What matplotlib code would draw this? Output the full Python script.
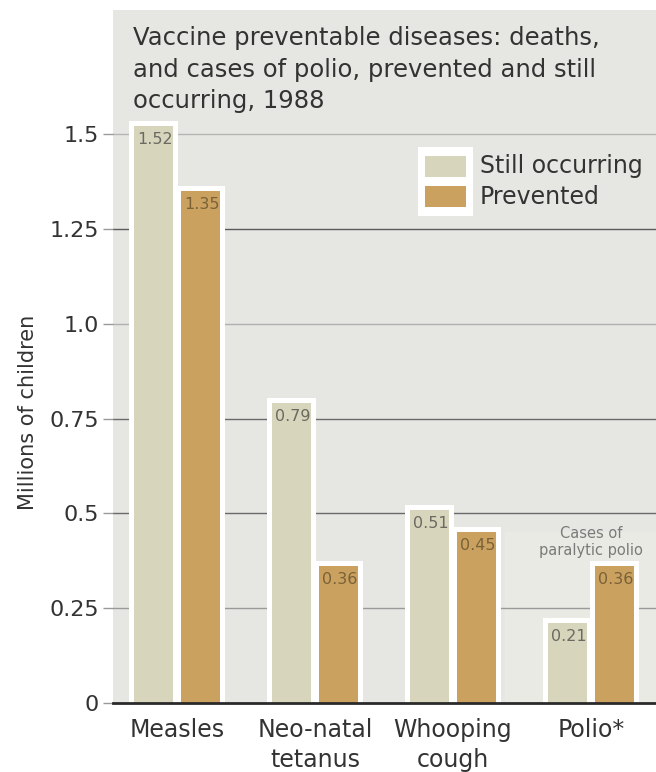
import matplotlib
matplotlib.use("Agg")
import matplotlib.pyplot as plt
from matplotlib.patches import Rectangle
import numpy as np

# Data (millions of children, 1988)
categories = ["Measles", "Neo-natal\ntetanus", "Whooping\ncough", "Polio*"]
still_occurring = [1.52, 0.79, 0.51, 0.21]
prevented = [1.35, 0.36, 0.45, 0.36]
value_labels_still = ["1.52", "0.79", "0.51", "0.21"]
value_labels_prev = ["1.35", "0.36", "0.45", "0.36"]
ytick_values = [0, 0.25, 0.5, 0.75, 1.0, 1.25, 1.5]
ytick_labels = ["0", "0.25", "0.5", "0.75", "1.0", "1.25", "1.5"]

W, H = 656, 772
fig = plt.figure(figsize=(W / 100, H / 100), dpi=100)
fig.patch.set_facecolor("white")

# axes box in pixels
ax_l, ax_r, ax_t, ax_b = 113, 656, 10, 703
ax = fig.add_axes([ax_l / W, (H - ax_b) / H, (ax_r - ax_l) / W, (ax_b - ax_t) / H])
ax.set_facecolor("#e6e6e3")

px_per_x = 138.0
px_per_y = 379.3
x0_px = 177
ax.set_xlim((ax_l - x0_px) / px_per_x, (ax_r - x0_px) / px_per_x)
ax.set_ylim(0, (ax_b - ax_t) / px_per_y)

still_col = "#d8d5bd"
prev_col = "#cba160"
bar_w = 39 / px_per_x
off = 23.5 / px_per_x
pad_x = 5 / px_per_x
pad_y = 5 / px_per_y

x = np.arange(len(categories))

# slightly lighter panel behind the polio group
ax.add_patch(Rectangle((2.377, 0), 5, 0.45, facecolor="#eaeae4", edgecolor="none", zorder=0.5))

# gridlines
grid_cols = {0.25: "#9a9a9a", 0.5: "#6a6a6a", 0.75: "#6a6a6a", 1.0: "#b0b0b0",
             1.25: "#5a5a5a", 1.5: "#b5b5b5"}
for yv, c in grid_cols.items():
    ax.axhline(yv, color=c, lw=1.0, zorder=1)

# white backing behind each bar, then the coloured bar
for xs, vals, col in [(x - off, still_occurring, still_col), (x + off, prevented, prev_col)]:
    ax.bar(xs, np.array(vals) + pad_y, width=bar_w + 2 * pad_x, color="white",
           edgecolor="none", zorder=2)
    ax.bar(xs, vals, width=bar_w, color=col, edgecolor="none", zorder=3)

# value labels inside the top of each bar
for xi, v, t in zip(x - off, still_occurring, value_labels_still):
    ax.text(xi - bar_w / 2 + 3 / px_per_x, v - 6 / px_per_y, t, ha="left", va="top",
            fontsize=11.5, color="#6a6a62", zorder=4)
for xi, v, t in zip(x + off, prevented, value_labels_prev):
    ax.text(xi - bar_w / 2 + 3 / px_per_x, v - 6 / px_per_y, t, ha="left", va="top",
            fontsize=11.5, color="#7a6238", zorder=4)

ax.text(x[3], 0.425, "Cases of\nparalytic polio", ha="center", va="center",
        fontsize=10.5, color="#7a7a7a", linespacing=1.2, zorder=4)

# spines and ticks
for s in ["left", "right", "top"]:
    ax.spines[s].set_visible(False)
ax.spines["bottom"].set_color("#2a2a2a")
ax.spines["bottom"].set_linewidth(2)
ax.spines["bottom"].set_zorder(5)

ax.set_yticks(ytick_values)
ax.set_yticklabels(ytick_labels, fontsize=16, color="#333333")
ax.tick_params(axis="y", length=7, width=1, color="#999999", pad=3)
ax.set_xticks(x)
ax.set_xticklabels(categories, fontsize=17, color="#333333", linespacing=1.3)
ax.tick_params(axis="x", length=0, pad=11)

fig.text(28 / W, 1 - 412 / H, "Millions of children", rotation=90, ha="center",
         va="center", fontsize=15, color="#333333")

# title block
fig.text(133 / W, 1 - 26 / H,
         "Vaccine preventable diseases: deaths,\nand cases of polio, prevented and still\noccurring, 1988",
         ha="left", va="top", fontsize=17.5, color="#333333", linespacing=1.4)

# legend
def px_rect(x1, y1, x2, y2, **kw):
    fig.patches.append(Rectangle((x1 / W, 1 - y2 / H), (x2 - x1) / W, (y2 - y1) / H,
                                 transform=fig.transFigure, **kw))

px_rect(418, 147, 473, 216, facecolor="white", edgecolor="none")
px_rect(425, 156, 466, 177, facecolor=still_col, edgecolor="none")
px_rect(425, 186, 466, 207, facecolor=prev_col, edgecolor="none")
fig.text(480 / W, 1 - 166 / H, "Still occurring", ha="left", va="center", fontsize=17, color="#333333")
fig.text(480 / W, 1 - 197 / H, "Prevented", ha="left", va="center", fontsize=17, color="#333333")

fig.savefig("out.png", dpi=100, facecolor="white")
